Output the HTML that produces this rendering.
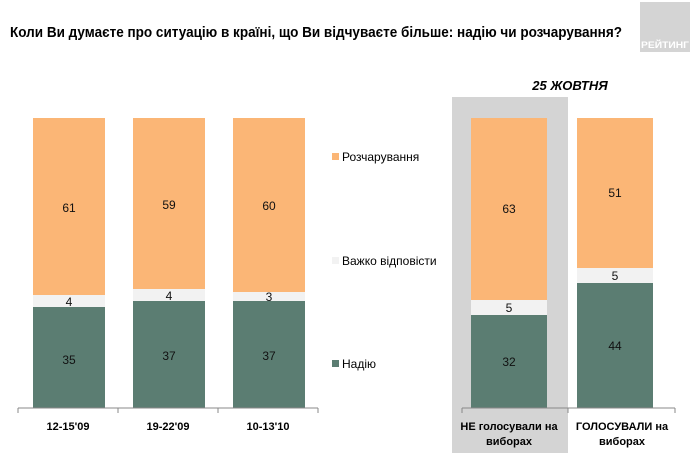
<!DOCTYPE html>
<html><head><meta charset="utf-8"><style>body{margin:0;background:#fff}svg{display:block}</style></head><body>
<svg width="690" height="463" xmlns="http://www.w3.org/2000/svg" font-family="Liberation Sans, sans-serif">
<rect width="690" height="463" fill="#fff"/>
<text x="10" y="37" font-size="14.5" font-weight="bold" textLength="612" lengthAdjust="spacingAndGlyphs">Коли Ви думаєте про ситуацію в країні, що Ви відчуваєте більше: надію чи розчарування?</text>
<rect x="640" y="2" width="50" height="50" fill="#d4d4d4"/>
<text x="665" y="48" font-size="9" font-weight="bold" fill="#fff" text-anchor="middle" textLength="48" lengthAdjust="spacingAndGlyphs">РЕЙТИНГ</text>
<text x="570" y="90" font-size="13" font-weight="bold" font-style="italic" text-anchor="middle">25 ЖОВТНЯ</text>
<rect x="452" y="97" width="116" height="356" fill="#d4d4d4"/>
<g fill="#fbb676">
<rect x="33" y="118" width="72" height="177"/><rect x="133" y="118" width="72" height="171"/><rect x="233" y="118" width="72" height="174"/>
<rect x="471" y="118" width="76" height="182"/><rect x="577" y="118" width="76" height="150"/></g>
<g fill="#f2f2f2">
<rect x="33" y="295" width="72" height="12"/><rect x="133" y="289" width="72" height="12"/><rect x="233" y="292" width="72" height="9"/>
<rect x="471" y="300" width="76" height="15"/><rect x="577" y="268" width="76" height="15"/></g>
<g fill="#5b7d72">
<rect x="33" y="307" width="72" height="101"/><rect x="133" y="301" width="72" height="107"/><rect x="233" y="301" width="72" height="107"/>
<rect x="471" y="315" width="76" height="93"/><rect x="577" y="283" width="76" height="125"/></g>
<g stroke="#888" stroke-width="1" fill="none">
<path d="M18 408H318M18 408v5M118 408v5M218 408v5M318 408v5"/>
<path d="M462 408H675M462 408v5M568 408v5M675 408v5"/></g>
<g font-size="12" text-anchor="middle" fill="#111">
<text x="69" y="212">61</text><text x="169" y="209">59</text><text x="269" y="210">60</text>
<text x="69" y="306">4</text><text x="169" y="300">4</text><text x="269" y="301">3</text>
<text x="69" y="364">35</text><text x="169" y="360">37</text><text x="269" y="360">37</text>
<text x="509" y="213">63</text><text x="615" y="197">51</text>
<text x="509" y="312">5</text><text x="615" y="280">5</text>
<text x="509" y="366">32</text><text x="615" y="350">44</text>
</g>
<g font-size="11" font-weight="bold" text-anchor="middle">
<text x="68" y="430">12-15'09</text><text x="168" y="430">19-22'09</text><text x="268" y="430">10-13'10</text>
<text x="509" y="430">НЕ голосували на</text><text x="509" y="445">виборах</text>
<text x="622" y="430">ГОЛОСУВАЛИ на</text><text x="622" y="445">виборах</text>
</g>
<rect x="332" y="153" width="7" height="7" fill="#fbb676"/>
<text x="342" y="161" font-size="12">Розчарування</text>
<rect x="332" y="257" width="7" height="7" fill="#f2f2f2"/>
<text x="342" y="265" font-size="12">Важко відповісти</text>
<rect x="332" y="360" width="7" height="7" fill="#5b7d72"/>
<text x="342" y="368" font-size="12">Надію</text>
</svg>
</body></html>
